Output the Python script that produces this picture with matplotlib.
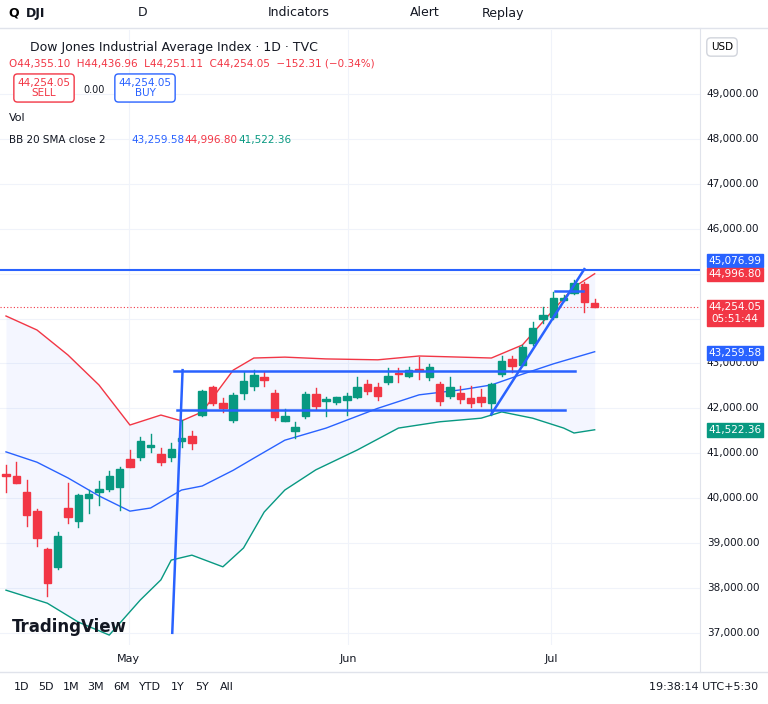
import matplotlib
matplotlib.use("Agg")
import matplotlib.pyplot as plt
from matplotlib.patches import Rectangle
import numpy as np

plt.rcParams['font.family'] = ['DejaVu Sans']

opens = [40530,40490,40140,39710,38870,38470,39780,39490,40000,40140,40200,40250,40870,40910,41140,40980,40910,41270,41380,41850,42470,42120,41740,42340,42500,42700,42340,41720,41500,
         41830,42320,42160,42140,42180,42250,42540,42470,42590,42780,42720,42880,42700,42540,42270,42340,42230,42250,42120,42760,43100,42970,43450,43990,44030,44410,44570,44770,44355]
closes = [40500,40340,39620,39110,38110,39160,39580,40070,40090,40200,40490,40650,40690,41270,41190,40800,41090,41340,41230,42390,42120,42010,42300,42610,42740,42630,41810,41830,41580,
          42320,42050,42210,42250,42270,42470,42390,42270,42720,42760,42850,42830,42920,42160,42470,42210,42120,42140,42540,43050,42940,43370,43790,44080,44460,44460,44790,44370,44254]
highs = [40740,40800,40400,39760,38900,39250,40340,40090,40180,40380,40600,40700,41070,41360,41430,41110,41230,41740,41500,42400,42500,42220,42340,42800,42850,42800,42400,41990,41700,
         42370,42450,42250,42260,42350,42690,42640,42560,42900,42900,42920,43140,42990,42580,42690,42500,42500,42440,42570,43160,43160,43420,43920,44250,44600,44520,44860,44820,44437]
lows = [40140,40340,39380,38930,37820,38430,39450,39360,39670,39850,40150,39740,40690,40850,41030,40740,40830,41140,41100,41820,42070,41920,41690,42200,42400,42500,41750,41720,41340,
        41780,41980,41830,42100,41850,42230,42320,42180,42550,42580,42690,42660,42630,42070,42220,42110,42020,42050,41860,42720,42810,42940,43420,43900,43980,44380,44540,44150,44251]

upper_i = [0,3,6,9,12,15,17,19,22,24,27,31,36,40,44,47,50,53,55,57]
upper_v = [44056,43744,43187,42520,41628,41850,41720,41920,42850,43120,43140,43100,43080,43165,43140,43120,43410,44190,44700,44997]
mid_i = [0,3,6,9,12,14,17,19,22,24,27,31,36,40,44,47,50,53,57]
mid_v = [41030,40800,40450,40050,39710,39780,40180,40270,40620,40890,41290,41560,42000,42300,42410,42520,42760,42990,43260]
low_i = [0,4,7,10,13,15,16,18,21,23,25,27,30,34,38,42,46,48,51,54,55,57]
low_v = [37950,37660,37240,36950,37730,38180,38620,38730,38470,38890,39690,40180,40630,41070,41560,41700,41780,41920,41780,41560,41450,41522]

price_ticks = [37000,38000,39000,40000,41000,42000,43000,44000,45000,46000,47000,48000,49000]
hidden_ticks = [44000,45000]
month_labels = ["May","Jun","Jul"]
month_pos = [11.9,33.1,52.8]

W,H = 768,704
fig = plt.figure(figsize=(W/100,H/100), dpi=100)
def fx(x): return x/W
def fy(y): return 1-y/H

ax = fig.add_axes([0, fy(645), fx(700), (645-30)/H])
ax.set_xlim(-0.58, 67.2)
ax.set_ylim(36729, 50425)
for s in ax.spines.values(): s.set_visible(False)
ax.set_xticks([]); ax.set_yticks([])
for p in price_ticks:
    ax.axhline(p, color='#f0f3fa', lw=0.8, zorder=0)
for m in month_pos:
    ax.axvline(m, color='#f0f3fa', lw=0.8, zorder=0)

xs = np.arange(len(opens))
up_full = np.interp(xs, upper_i, upper_v)
lo_full = np.interp(xs, low_i, low_v)
ax.fill_between(xs, lo_full, up_full, color='#2962ff', alpha=0.05, lw=0)
ax.plot(upper_i, upper_v, color='#f23645', lw=1)
ax.plot(mid_i, mid_v, color='#2962ff', lw=1)
ax.plot(low_i, low_v, color='#089981', lw=1)

for i,(o,c,h,l) in enumerate(zip(opens,closes,highs,lows)):
    col = '#089981' if c >= o else '#f23645'
    ax.plot([i,i],[l,h], color=col, lw=1, zorder=3)
    b = max(abs(c-o), 25)
    ax.add_patch(Rectangle((i-0.36, min(o,c)), 0.72, b, color=col, zorder=4))

blue = '#2962ff'
ax.axhline(45077, color=blue, lw=1.5, zorder=5)
ax.plot([16.3, 55.1],[42830,42830], color=blue, lw=1.8, zorder=5)
ax.plot([16.6, 54.1],[41960,41960], color=blue, lw=1.8, zorder=5)
ax.plot([16.1, 17.1],[37000,42850], color=blue, lw=1.8, zorder=5)
ax.plot([47.0, 56.0],[41870,45100], color=blue, lw=1.8, zorder=5)
ax.plot([53.2, 55.9],[44610,44610], color=blue, lw=1.8, zorder=5)
ax.axhline(44254, color='#f23645', lw=0.8, ls=(0,(1,2)), zorder=2)

# right axis labels
for p in price_ticks:
    if p in hidden_ticks:
        continue
    y = 94 + (49000-p)/1000*44.9
    fig.text(fx(733), fy(y), f"{p:,.2f}", fontsize=7.5, color='#131722', ha='center', va='center')
tags = [(260.5,"45,076.99",blue),(274.5,"44,996.80",'#f23645'),(313,"44,254.05\n05:51:44",'#f23645'),(353,"43,259.58",blue),(430,"41,522.36",'#089981')]
for y,t,c in tags:
    fig.text(fx(735), fy(y), t, fontsize=7.5, color='white', ha='center', va='center', linespacing=1.25,
             bbox=dict(boxstyle='square,pad=0.15', fc=c, ec=c))
fig.text(fx(722), fy(47), "USD", fontsize=7.5, ha='center', va='center',
         bbox=dict(boxstyle='round,pad=0.4', fc='white', ec='#d1d4dc'))

for m,pos in zip(month_labels, month_pos):
    fig.text(fx(6+pos*10.33), fy(659), m, fontsize=8, color='#131722', ha='center', va='center')

fig.add_artist(plt.Line2D([0,1],[fy(28),fy(28)], color='#e0e3eb', lw=1))
fig.add_artist(plt.Line2D([0,1],[fy(672),fy(672)], color='#e0e3eb', lw=1))
fig.add_artist(plt.Line2D([fx(700),fx(700)],[fy(672),fy(28)], color='#e0e3eb', lw=0.8))

for x,t in [(26,"DJI"),(268,"Indicators"),(410,"Alert"),(482,"Replay")]:
    fig.text(fx(x), fy(13), t, fontsize=9, color='#131722', ha='left', va='center',
             weight='bold' if t=="DJI" else 'normal')
fig.text(fx(143), fy(13), "D", fontsize=9, color='#131722', ha='center', va='center')
fig.text(fx(8), fy(13), "Q", fontsize=9, va='center', weight='bold')
fig.text(fx(30), fy(47), "Dow Jones Industrial Average Index · 1D · TVC", fontsize=9, color='#131722', va='center')
fig.text(fx(9), fy(64), "O44,355.10  H44,436.96  L44,251.11  C44,254.05  −152.31 (−0.34%)", fontsize=7.5, color='#f23645', va='center')
fig.text(fx(44), fy(88), "44,254.05\nSELL", fontsize=7.5, color='#f23645', ha='center', va='center', linespacing=1.1,
         bbox=dict(boxstyle='round,pad=0.35', fc='white', ec='#f23645'))
fig.text(fx(94), fy(90), "0.00", fontsize=7, color='#131722', ha='center', va='center')
fig.text(fx(145), fy(88), "44,254.05\nBUY", fontsize=7.5, color=blue, ha='center', va='center', linespacing=1.1,
         bbox=dict(boxstyle='round,pad=0.35', fc='white', ec=blue))
fig.text(fx(9), fy(118), "Vol", fontsize=8, color='#131722', va='center')
fig.text(fx(9), fy(140), "BB 20 SMA close 2", fontsize=7.5, color='#131722', va='center')
fig.text(fx(131), fy(140), "43,259.58", fontsize=7.5, color=blue, va='center')
fig.text(fx(184), fy(140), "44,996.80", fontsize=7.5, color='#f23645', va='center')
fig.text(fx(238), fy(140), "41,522.36", fontsize=7.5, color='#089981', va='center')
fig.text(fx(12), fy(627), "TradingView", fontsize=12, weight='bold', color='#131722', va='center')

for x,t in [(22,"1D"),(46,"5D"),(71,"1M"),(96,"3M"),(122,"6M"),(150,"YTD"),(178,"1Y"),(202,"5Y"),(227,"All")]:
    fig.text(fx(x), fy(687), t, fontsize=8, color='#131722', ha='center', va='center')
fig.text(fx(758), fy(687), "19:38:14 UTC+5:30", fontsize=8, color='#131722', ha='right', va='center')

fig.savefig("out.png", dpi=100, facecolor='white')
